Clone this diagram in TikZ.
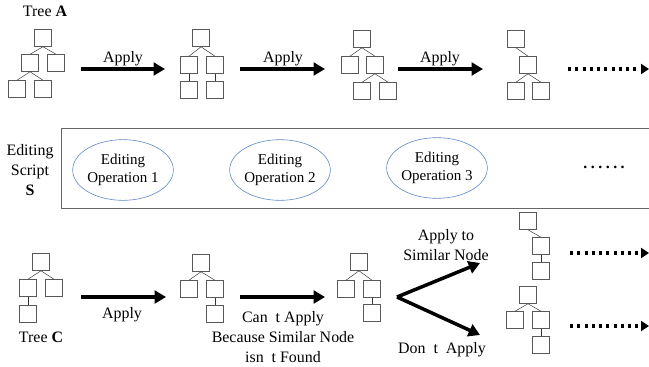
\documentclass[tikz,border=0pt]{standalone}
\usepackage{fontspec}
\setmainfont{Liberation Serif}
\usepackage{tikz}
\usetikzlibrary{arrows.meta,shapes.geometric}

\definecolor{opblue}{HTML}{5B86C8}

\tikzset{
    tbox/.style={draw=black!65, line width=0.5pt, minimum size=0.51cm, inner sep=0pt},
    tedge/.style={draw=black!80, line width=0.4pt},
    applyarrow/.style={line width=3pt, -{Triangle[length=3.4mm,width=3.8mm]}},
    morearrow/.style={line width=3pt, dash pattern=on 2.6pt off 3.6pt, -{Triangle[length=2.4mm,width=3mm]}},
    operation/.style={ellipse, draw=opblue, line width=0.5pt, minimum width=2.94cm, minimum height=1.82cm, inner sep=0pt, align=center, font=\fontsize{12.8}{16}\selectfont},
    lbl/.style={font=\fontsize{13.6}{17}\selectfont, align=center, inner sep=0pt}
}

\begin{document}
\begin{tikzpicture}[x=0.03cm, y=-0.03cm]
    \useasboundingbox (0,0) rectangle (649,367);

    % Top row: tree A
    \node[tbox] (a1) at (43,38) {};
    \node[tbox] (a2) at (30,63) {};
    \node[tbox] (a3) at (56,63) {};
    \node[tbox] (a4) at (17,89) {};
    \node[tbox] (a5) at (43,89) {};
    \draw[tedge] (a1.south) -- (a2.north);
    \draw[tedge] (a1.south) -- (a3.north);
    \draw[tedge] (a2.south) -- (a4.north);
    \draw[tedge] (a2.south) -- (a5.north);
    \node[lbl, anchor=base] (treeA) at (45,17) {Tree \textbf{A}};

    % second tree
    \node[tbox] (b1) at (201,38) {};
    \node[tbox] (b2) at (189,65) {};
    \node[tbox] (b3) at (215,65) {};
    \node[tbox] (b4) at (189,90) {};
    \node[tbox] (b5) at (215,90) {};
    \draw[tedge] (b1.south) -- (b2.north);
    \draw[tedge] (b1.south) -- (b3.north);
    \draw[tedge] (b2.south) -- (b4.north);
    \draw[tedge] (b3.south) -- (b5.north);

    % third tree
    \node[tbox] (c1) at (362,39) {};
    \node[tbox] (c2) at (350,65) {};
    \node[tbox] (c3) at (375,65) {};
    \node[tbox] (c4) at (362,91) {};
    \node[tbox] (c5) at (388,91) {};
    \draw[tedge] (c1.south) -- (c2.north);
    \draw[tedge] (c1.south) -- (c3.north);
    \draw[tedge] (c3.south) -- (c4.north);
    \draw[tedge] (c3.south) -- (c5.north);

    % fourth tree
    \node[tbox] (d1) at (516,39) {};
    \node[tbox] (d2) at (528,65) {};
    \node[tbox] (d3) at (516,91) {};
    \node[tbox] (d4) at (541,91) {};
    \draw[tedge] (d1.south) -- (d2.north);
    \draw[tedge] (d2.south) -- (d3.north);
    \draw[tedge] (d2.south) -- (d4.north);

    % Arrows of the top row
    \coordinate (t1s) at (81,69);   \coordinate (t1e) at (165,69);
    \coordinate (t2s) at (240,69);  \coordinate (t2e) at (325,69);
    \coordinate (t3s) at (398,69);  \coordinate (t3e) at (483,69);
    \coordinate (t4s) at (568,69);  \coordinate (t4e) at (649,69);
    \draw[applyarrow] (t1s) -- (t1e);
    \draw[applyarrow] (t2s) -- (t2e);
    \draw[applyarrow] (t3s) -- (t3e);
    \draw[morearrow] (t4s) -- (t4e);
    \node[lbl, anchor=base] (ap1) at (123,63) {Apply};
    \node[lbl, anchor=base] (ap2) at (283,63) {Apply};
    \node[lbl, anchor=base] (ap3) at (440,63) {Apply};

    % Editing script frame
    \draw[black!60, line width=0.8pt] (652,128) -- (61,128) -- (61,208) -- (652,208);
    \node[lbl] (script) at (30,170) {Editing\\Script\\\textbf{S}};
    \node[operation] (op1) at (123,170) {Editing\\Operation 1};
    \node[operation] (op2) at (280,170) {Editing\\Operation 2};
    \node[operation] (op3) at (437,168) {Editing\\Operation 3};
    \node[lbl] (dots) at (604,167) {\textbf{.\kern3pt.\kern3pt.\kern3pt.\kern3pt.\kern3pt.}};

    % Bottom row: tree C
    \node[tbox] (e1) at (41,262) {};
    \node[tbox] (e2) at (28,288) {};
    \node[tbox] (e3) at (54,288) {};
    \node[tbox] (e4) at (28,314) {};
    \draw[tedge] (e1.south) -- (e2.north);
    \draw[tedge] (e1.south) -- (e3.north);
    \draw[tedge] (e2.south) -- (e4.north);
    \node[lbl, anchor=base] (treeC) at (41,342) {Tree \textbf{C}};

    \node[tbox] (f1) at (201,263) {};
    \node[tbox] (f2) at (189,289) {};
    \node[tbox] (f3) at (215,289) {};
    \node[tbox] (f4) at (215,314) {};
    \draw[tedge] (f1.south) -- (f2.north);
    \draw[tedge] (f1.south) -- (f3.north);
    \draw[tedge] (f3.south) -- (f4.north);

    \node[tbox] (g1) at (359,262) {};
    \node[tbox] (g2) at (346,289) {};
    \node[tbox] (g3) at (372,289) {};
    \node[tbox] (g4) at (372,313) {};
    \draw[tedge] (g1.south) -- (g2.north);
    \draw[tedge] (g1.south) -- (g3.north);
    \draw[tedge] (g3.south) -- (g4.north);

    % result when applied to the similar node
    \node[tbox] (h1) at (528,221) {};
    \node[tbox] (h2) at (541,246) {};
    \node[tbox] (h3) at (541,271) {};
    \draw[tedge] (h1.south) -- (h2.north);
    \draw[tedge] (h2.south) -- (h3.north);

    % result when not applied
    \node[tbox] (k1) at (528,295) {};
    \node[tbox] (k2) at (515,320) {};
    \node[tbox] (k3) at (541,320) {};
    \node[tbox] (k4) at (541,345) {};
    \draw[tedge] (k1.south) -- (k2.north);
    \draw[tedge] (k1.south) -- (k3.north);
    \draw[tedge] (k3.south) -- (k4.north);

    % Arrows of the bottom row
    \coordinate (b1s) at (81,297);   \coordinate (b1e) at (166,297);
    \coordinate (b2s) at (240,297);  \coordinate (b2e) at (325,297);
    \coordinate (fork) at (397,297);
    \coordinate (up) at (480,263);   \coordinate (down) at (480,335);
    \coordinate (m1s) at (570,253);  \coordinate (m1e) at (649,253);
    \coordinate (m2s) at (570,326);  \coordinate (m2e) at (649,326);
    \draw[applyarrow] (b1s) -- (b1e);
    \draw[applyarrow] (b2s) -- (b2e);
    \draw[applyarrow] (fork) -- (up);
    \draw[applyarrow] (fork) -- (down);
    \draw[morearrow] (m1s) -- (m1e);
    \draw[morearrow] (m2s) -- (m2e);

    % Label values
    \node[lbl, anchor=base] (ap4) at (122,318) {Apply};
    \node[lbl] (cant) at (283,337) {Can\ \ t Apply\\Because Similar Node\\isn\ \ t Found};
    \node[lbl] (sim) at (446,245) {Apply to\\Similar Node};
    \node[lbl, anchor=base] (dont) at (442,353) {Don\ \ t\ \ Apply};
\end{tikzpicture}
\end{document}
